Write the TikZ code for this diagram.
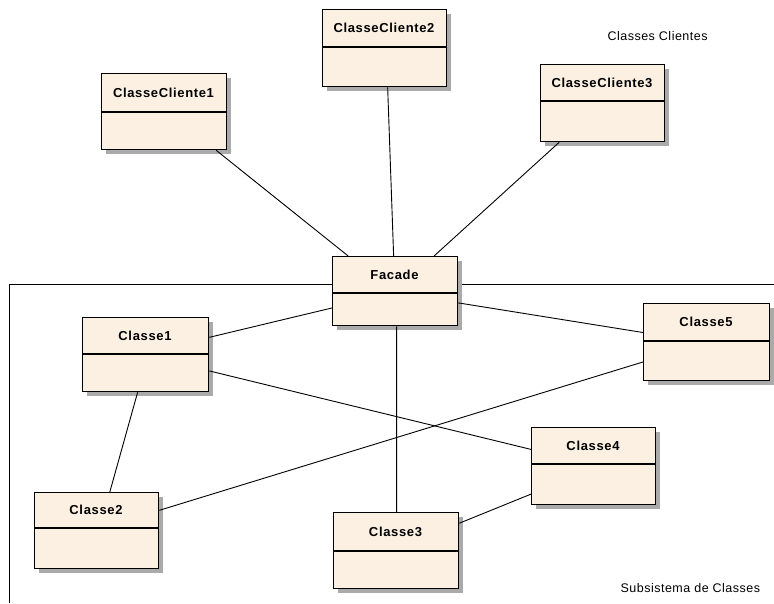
\documentclass[tikz,border=0pt]{standalone}
\usepackage{fontspec}
\setmainfont{Liberation Sans}
\newfontfamily\classfont[LetterSpace=5]{Liberation Sans}
\newfontfamily\notefont[LetterSpace=4]{Liberation Sans}
\usetikzlibrary{calc}

\definecolor{classfill}{RGB}{251,240,225}
\definecolor{shadowgray}{RGB}{170,170,170}

\tikzset{
  classrect/.style={draw=black, fill=classfill, line width=1.3pt, inner sep=0pt, anchor=north west},
  classname/.style={font=\classfont\bfseries\fontsize{13}{15}\selectfont},
  notelabel/.style={font=\notefont\fontsize{12.5}{14}\selectfont, anchor=base west},
  link/.style={draw=black, line width=0.9pt},
  frameline/.style={draw=black, line width=1pt}
}

% #1 name, #2 left, #3 top, #4 right, #5 bottom, #6 divider, #7 label
\newcommand\classbox[7]{%
  \fill[shadowgray] (#2+5,#3+5) rectangle (#4+5,#5+5);
  \node[classrect, minimum width={#4pt-#2pt}, minimum height={#5pt-#3pt}] (#1) at (#2,#3) {};
  \draw[line width=1.3pt] (#2,#6) -- (#4,#6);
  \node[classname] (#1-name) at ({(#2+#4)/2},{(#3+#6)/2}) {#7};
}

\begin{document}
\begin{tikzpicture}[x=1pt, y=-1pt]
\useasboundingbox (0,0) rectangle (774,603);

% subsystem frame
\draw[frameline] (774,284) -- (9,284) -- (9,603);

% client classes
\classbox{cc1}{101}{73}{226}{149}{112}{ClasseCliente1}
\classbox{cc2}{322}{9}{446}{86}{47}{ClasseCliente2}
\classbox{cc3}{540}{64}{664}{141}{101}{ClasseCliente3}

% facade and subsystem classes
\classbox{facade}{332}{256}{457}{325}{293}{Facade}
\classbox{c1}{82}{317}{208}{391}{354}{Classe1}
\classbox{c2}{34}{492}{158}{568}{528}{Classe2}
\classbox{c3}{333}{512}{458}{588}{551}{Classe3}
\classbox{c4}{531}{427}{655}{504}{464}{Classe4}
\classbox{c5}{643}{303}{769}{380}{341}{Classe5}

% associations
\draw[link] ($(cc1.south west)!0.912!(cc1.south east)$) -- ($(facade.north west)!0.128!(facade.north east)$);
\draw[link] ($(cc2.south west)!0.524!(cc2.south east)$) -- ($(facade.north west)!0.488!(facade.north east)$);
\draw[link] ($(cc3.south west)!0.153!(cc3.south east)$) -- ($(facade.north west)!0.808!(facade.north east)$);
\draw[link] ($(facade.north west)!0.739!(facade.south west)$) -- ($(c1.north east)!0.27!(c1.south east)$);
\draw[link] ($(facade.north east)!0.667!(facade.south east)$) -- ($(c5.north west)!0.377!(c5.south west)$);
\draw[link] ($(facade.south west)!0.512!(facade.south east)$) -- ($(c3.north west)!0.504!(c3.north east)$);
\draw[link] ($(c1.north east)!0.716!(c1.south east)$) -- ($(c4.north west)!0.286!(c4.south west)$);
\draw[link] ($(c1.south west)!0.437!(c1.south east)$) -- ($(c2.north west)!0.605!(c2.north east)$);
\draw[link] ($(c5.north west)!0.753!(c5.south west)$) -- ($(c2.north east)!0.237!(c2.south east)$);
\draw[link] ($(c4.north west)!0.857!(c4.south west)$) -- ($(c3.north east)!0.145!(c3.south east)$);

% package captions
\node[notelabel] (clients) at (604,40) {Classes Clientes};
\node[notelabel] (subsystem) at (617,592) {Subsistema de Classes};
\end{tikzpicture}
\end{document}
